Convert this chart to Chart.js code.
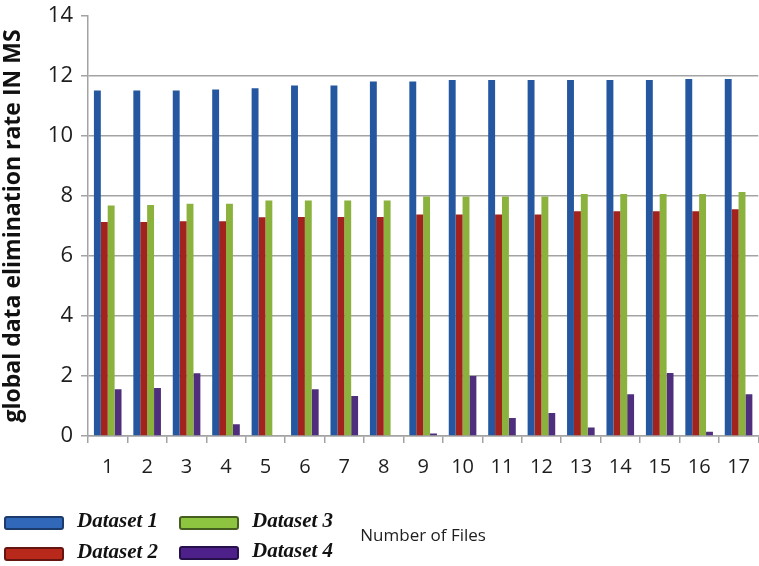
<!DOCTYPE html>
<html>
<head>
<meta charset="utf-8">
<script src="https://cdn.jsdelivr.net/npm/chart.js@4.4.0/dist/chart.umd.min.js"></script>
<style>
  html, body { margin: 0; padding: 0; background: #fff; overflow: hidden; }
  canvas { display: block; }
</style>
</head>
<body>
<canvas id="chart" width="762" height="566"></canvas>
<script>
// Number of files on the x axis
const fileCounts = ['1','2','3','4','5','6','7','8','9','10','11','12','13','14','15','16','17'];

// Global data elimination rate (ms) per dataset
const dataset1 = [11.52, 11.52, 11.52, 11.55, 11.59, 11.68, 11.68, 11.82, 11.82, 11.87, 11.87, 11.87, 11.87, 11.87, 11.87, 11.90, 11.90];
const dataset2 = [7.13, 7.13, 7.16, 7.16, 7.29, 7.30, 7.30, 7.30, 7.38, 7.38, 7.38, 7.38, 7.49, 7.49, 7.49, 7.49, 7.56];
const dataset3 = [7.68, 7.70, 7.74, 7.74, 7.85, 7.85, 7.85, 7.85, 7.98, 7.98, 7.98, 7.98, 8.07, 8.07, 8.07, 8.07, 8.13];
const dataset4 = [1.56, 1.60, 2.09, 0.39, 0.00, 1.56, 1.33, 0.00, 0.08, 2.00, 0.60, 0.77, 0.28, 1.39, 2.10, 0.14, 1.39];

const seriesNames = ['Dataset 1', 'Dataset 2', 'Dataset 3', 'Dataset 4'];
const yTickValues = [0, 2, 4, 6, 8, 10, 12, 14];

const barColors = ['#24579f', '#a2221d', '#8ab23c', '#4f2f7d'];
const swatchFill = ['#3168b9', '#b8291c', '#8dc540', '#4d2189'];
const swatchEdge = ['#1a3b6c', '#65140f', '#465f20', '#26104a'];

const GRID = '#a3a3a3';
const LABEL_FONT = '"Open Sans", Lato, sans-serif';

// Legend drawn as a 2x2 block under the axis labels
const legendBlock = {
  id: 'legendBlock',
  afterDraw(chart) {
    const ctx = chart.ctx;
    const cells = [
      { i: 0, sx: 5,   sy: 517 },
      { i: 2, sx: 180, sy: 517 },
      { i: 1, sx: 5,   sy: 548 },
      { i: 3, sx: 180, sy: 547 }
    ];
    ctx.save();
    cells.forEach(c => {
      ctx.fillStyle = swatchFill[c.i];
      ctx.strokeStyle = swatchEdge[c.i];
      ctx.lineWidth = 2;
      ctx.beginPath();
      ctx.roundRect(c.sx, c.sy, 58, 12, 2);
      ctx.fill();
      ctx.stroke();
      ctx.fillStyle = '#111';
      ctx.font = 'italic bold 21px "Liberation Serif", "DejaVu Serif", serif';
      ctx.textBaseline = 'middle';
      ctx.textAlign = 'left';
      ctx.fillText(seriesNames[c.i], c.sx + 72, c.sy + 5);
    });
    ctx.restore();
  }
};

const chart = new Chart(document.getElementById('chart'), {
  type: 'bar',
  data: {
    labels: fileCounts,
    datasets: [dataset1, dataset2, dataset3, dataset4].map((d, i) => ({
      label: seriesNames[i],
      data: d,
      backgroundColor: barColors[i],
      borderWidth: 0,
      categoryPercentage: 0.7,
      barPercentage: 1.0
    }))
  },
  options: {
    responsive: false,
    animation: false,
    layout: { padding: { top: 16, right: 0, bottom: 0, left: 0 } },
    plugins: {
      legend: { display: false },
      tooltip: { enabled: false }
    },
    scales: {
      x: {
        grid: {
          display: true,
          drawOnChartArea: false,
          drawTicks: true,
          tickLength: 7,
          color: GRID,
          lineWidth: 1.5,
          offset: true
        },
        border: { display: true, color: GRID, width: 1.5 },
        ticks: {
          color: '#1e1e1e',
          font: { family: LABEL_FONT, size: 20 },
          padding: 12,
          maxRotation: 0,
          autoSkip: false
        },
        title: {
          display: true,
          text: 'Number of Files',
          color: '#1e1e1e',
          font: { family: LABEL_FONT, size: 17 },
          padding: { top: 0, bottom: 20 }
        },
        afterFit(scale) { scale.height = 566 - 436; }
      },
      y: {
        min: 0,
        max: 14,
        afterBuildTicks(scale) { scale.ticks = yTickValues.map(v => ({ value: v })); },
        grid: {
          color: ctx => (ctx.tick && ctx.tick.value === 14 ? 'rgba(0,0,0,0)' : GRID),
          tickColor: GRID,
          lineWidth: 1.5,
          tickLength: 7,
          drawTicks: true
        },
        border: { display: true, color: GRID, width: 1.5 },
        ticks: {
          color: '#1e1e1e',
          font: { family: LABEL_FONT, size: 22 },
          padding: 8
        },
        title: {
          display: true,
          text: 'global data elimination rate IN MS',
          color: '#111',
          font: { family: '"Open Sans", sans-serif', size: 23, weight: 'bold' },
          padding: { top: 0, bottom: 0, left: 6, right: 0 }
        },
        afterFit(scale) {
          scale.width = 88;
          scale.paddingTop = 0;
          scale.paddingBottom = 0;
        }
      }
    }
  },
  plugins: [legendBlock]
});
</script>
</body>
</html>
